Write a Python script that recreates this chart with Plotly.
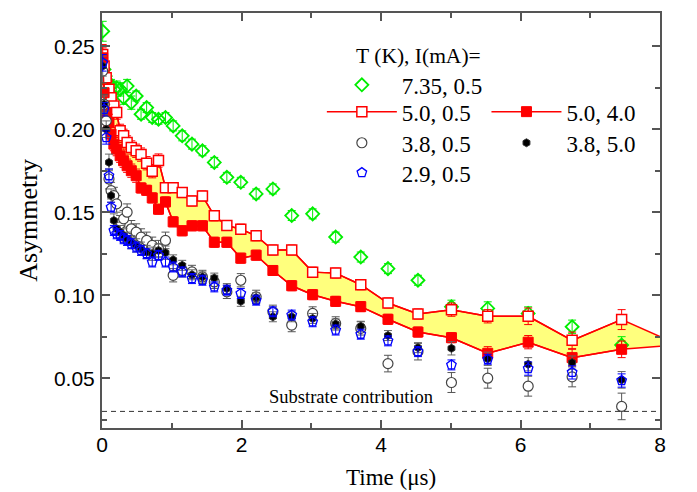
import plotly.graph_objects as go

# ---- data ----
t = [0.01, 0.03, 0.06, 0.10, 0.13, 0.17, 0.21, 0.26, 0.31, 0.36, 0.42, 0.49,
     0.56, 0.64, 0.72, 0.81, 0.91, 1.02, 1.15, 1.29, 1.44, 1.61, 1.79, 1.99,
     2.21, 2.45, 2.72, 3.02, 3.35, 3.71, 4.10, 4.53, 5.01, 5.53, 6.11, 6.74, 7.45]

a_735_05 = [0.259, 0.236, 0.229, 0.228, 0.226, 0.224, 0.225, 0.224, 0.219, 0.226, 0.216, 0.220,
            0.209, 0.213, 0.207, 0.206, 0.207, 0.202, 0.196, 0.191, 0.187, 0.180, 0.171, 0.168,
            0.161, 0.164, 0.148, 0.149, 0.135, 0.123, 0.116, 0.109, 0.093, 0.092, 0.089, 0.081, 0.070]
e_735_05 = [0.006, 0.005, 0.005, 0.004, 0.004, 0.004, 0.004, 0.004, 0.004, 0.004, 0.004, 0.003,
            0.003, 0.003, 0.003, 0.003, 0.003, 0.003, 0.003, 0.003, 0.003, 0.003, 0.003, 0.003,
            0.003, 0.003, 0.003, 0.003, 0.003, 0.003, 0.003, 0.003, 0.004, 0.004, 0.004, 0.004, 0.005]

a_50_05 = [0.245, 0.238, 0.231, 0.224, 0.219, 0.214, 0.210, 0.199, 0.196, 0.192, 0.189, 0.187,
           0.1847, 0.1795, 0.1747, 0.1811, 0.1648, 0.1648, 0.1618, 0.1568, 0.1598, 0.1478, 0.1420, 0.1398,
           0.1358, 0.1272, 0.1272, 0.1139, 0.1133, 0.1063, 0.0953, 0.0887, 0.0913, 0.0873, 0.0873, 0.0728, 0.0853]
e_50_05 = [0.006, 0.005, 0.005, 0.005, 0.004, 0.004, 0.004, 0.004, 0.004, 0.004, 0.004, 0.004,
           0.004, 0.004, 0.004, 0.004, 0.003, 0.003, 0.003, 0.003, 0.003, 0.003, 0.003, 0.003,
           0.003, 0.003, 0.003, 0.003, 0.003, 0.003, 0.003, 0.003, 0.004, 0.004, 0.005, 0.005, 0.006]

a_50_40 = [0.243, 0.222, 0.210, 0.204, 0.197, 0.191, 0.188, 0.184, 0.181, 0.178, 0.175, 0.172,
           0.1646, 0.1632, 0.1586, 0.1518, 0.1562, 0.1442, 0.1388, 0.1418, 0.1418, 0.1319, 0.1319, 0.1223,
           0.1241, 0.1149, 0.1057, 0.1003, 0.0963, 0.0931, 0.0855, 0.0778, 0.0744, 0.0650, 0.0717, 0.0624, 0.0674]
e_50_40 = [0.006, 0.005, 0.005, 0.005, 0.004, 0.004, 0.004, 0.004, 0.004, 0.004, 0.004, 0.004,
           0.003, 0.003, 0.003, 0.003, 0.003, 0.003, 0.003, 0.003, 0.003, 0.003, 0.003, 0.003,
           0.003, 0.003, 0.003, 0.003, 0.003, 0.003, 0.003, 0.003, 0.003, 0.004, 0.004, 0.005, 0.005]

a_38_05 = [0.235, 0.215, 0.205, 0.170, 0.163, 0.160, 0.155, 0.143, 0.146, 0.150, 0.140, 0.138,
           0.135, 0.133, 0.130, 0.128, 0.133, 0.112, 0.115, 0.114, 0.111, 0.108, 0.102, 0.109,
           0.099, 0.090, 0.082, 0.089, 0.083, 0.080, 0.0588, 0.066, 0.0474, 0.0500, 0.0452, 0.0508, 0.0330]
e_38_05 = [0.007, 0.006, 0.006, 0.006, 0.005, 0.005, 0.005, 0.005, 0.005, 0.005, 0.005, 0.005,
           0.005, 0.005, 0.005, 0.005, 0.005, 0.004, 0.004, 0.004, 0.004, 0.004, 0.004, 0.004,
           0.004, 0.004, 0.004, 0.004, 0.004, 0.004, 0.005, 0.005, 0.006, 0.006, 0.006, 0.006, 0.008]

a_38_50 = [0.238, 0.215, 0.200, 0.180, 0.160, 0.145, 0.140, 0.138, 0.136, 0.134, 0.132, 0.130,
           0.128, 0.126, 0.125, 0.127, 0.1256, 0.1213, 0.118, 0.1123, 0.111, 0.1103, 0.104, 0.0963,
           0.0985, 0.0870, 0.0870, 0.0860, 0.0827, 0.0813, 0.0757, 0.0684, 0.0680, 0.0617, 0.0584, 0.0594, 0.0490]
e_38_50 = [0.006, 0.005, 0.005, 0.005, 0.004, 0.004, 0.004, 0.004, 0.004, 0.004, 0.004, 0.004,
           0.004, 0.004, 0.004, 0.004, 0.004, 0.003, 0.003, 0.003, 0.003, 0.003, 0.003, 0.003,
           0.003, 0.003, 0.003, 0.003, 0.003, 0.003, 0.003, 0.003, 0.004, 0.004, 0.004, 0.004, 0.005]

a_29_05 = [0.240, 0.212, 0.195, 0.172, 0.153, 0.139, 0.137, 0.136, 0.134, 0.133, 0.131, 0.129,
           0.127, 0.125, 0.120, 0.124, 0.120, 0.117, 0.114, 0.110, 0.109, 0.105, 0.103, 0.101,
           0.097, 0.090, 0.088, 0.084, 0.079, 0.0765, 0.0725, 0.0660, 0.0580, 0.0614, 0.0558, 0.0535, 0.0486]
e_29_05 = [0.005, 0.004, 0.004, 0.004, 0.003, 0.003, 0.003, 0.003, 0.003, 0.003, 0.003, 0.003,
           0.003, 0.003, 0.003, 0.003, 0.003, 0.003, 0.003, 0.003, 0.003, 0.003, 0.003, 0.003,
           0.003, 0.003, 0.003, 0.003, 0.003, 0.003, 0.003, 0.003, 0.003, 0.003, 0.004, 0.004, 0.004]

# band continuation to the right edge
t_end = 8.0
band_upper_end = 0.0751
band_lower_end = 0.0692

substrate_t = [0, 8]
substrate_a = [0.03, 0.03]

legend_title = "T (K), I(mA)="
names = {
    "735": "7.35, 0.5",
    "50_05": "5.0, 0.5",
    "50_40": "5.0, 4.0",
    "38_05": "3.8, 0.5",
    "38_50": "3.8, 5.0",
    "29_05": "2.9, 0.5",
}
x_title = "Time (\u03bcs)"
y_title = "Asymmetry"
substrate_label = "Substrate contribution"

SERIF = "Liberation Serif, Times New Roman, serif"
SANS = "Liberation Sans, Arial, sans-serif"

fig = go.Figure()

# yellow band between the two 5.0 K curves
fig.add_trace(go.Scatter(x=t + [t_end], y=a_50_05 + [band_upper_end], mode="lines",
                         line=dict(color="red", width=1.5), showlegend=False, hoverinfo="skip"))
fig.add_trace(go.Scatter(x=t + [t_end], y=a_50_40 + [band_lower_end], mode="lines",
                         line=dict(color="red", width=1.5), fill="tonexty",
                         fillcolor="rgb(255,255,125)", showlegend=False, hoverinfo="skip"))

def err(arr, color):
    return dict(type="data", array=arr, visible=True, color=color, thickness=1, width=4)

fig.add_trace(go.Scatter(x=t, y=a_735_05, mode="markers", name=names["735"],
                         marker=dict(symbol="diamond-open", size=10, color="#00ee00",
                                     line=dict(width=1.8, color="#00ee00")),
                         error_y=err(e_735_05, "#00ee00"), legend="legend"))
fig.add_trace(go.Scatter(x=t, y=a_50_05, mode="lines+markers", name=names["50_05"],
                         line=dict(color="red", width=1.5),
                         marker=dict(symbol="square", size=10, color="white",
                                     line=dict(width=1.5, color="red")),
                         error_y=err(e_50_05, "red"), legend="legend2"))
fig.add_trace(go.Scatter(x=t, y=a_50_40, mode="lines+markers", name=names["50_40"],
                         line=dict(color="red", width=1.5),
                         marker=dict(symbol="square", size=10, color="red",
                                     line=dict(width=1, color="red")),
                         error_y=err(e_50_40, "red"), legend="legend3"))
fig.add_trace(go.Scatter(x=t, y=a_38_05, mode="markers", name=names["38_05"],
                         marker=dict(symbol="circle", size=10, color="white",
                                     line=dict(width=1.2, color="#444444")),
                         error_y=err(e_38_05, "#555555"), legend="legend4"))
fig.add_trace(go.Scatter(x=t, y=a_38_50, mode="markers", name=names["38_50"],
                         marker=dict(symbol="hexagon", size=8, color="black",
                                     line=dict(width=1, color="#333333")),
                         error_y=err(e_38_50, "#666666"), legend="legend5"))
fig.add_trace(go.Scatter(x=t, y=a_29_05, mode="markers", name=names["29_05"],
                         marker=dict(symbol="pentagon-open", size=10, color="blue",
                                     line=dict(width=1.3, color="blue")),
                         error_y=err(e_29_05, "blue"), legend="legend6"))

fig.add_trace(go.Scatter(x=substrate_t, y=substrate_a, mode="lines",
                         line=dict(color="#333333", width=1, dash="5px,4px"),
                         showlegend=False, hoverinfo="skip"))

fig.add_annotation(x=3.57, y=0.0386, text=substrate_label, showarrow=False,
                   font=dict(family=SERIF, size=18.5, color="black"))
fig.add_annotation(xref="paper", yref="paper", x=0.518, y=-0.12, text=x_title,
                   showarrow=False, xanchor="center", yanchor="middle",
                   font=dict(family=SERIF, size=23, color="black"))

axis_common = dict(showline=True, linecolor="#555555", linewidth=2, mirror="ticks",
                   ticks="inside", ticklen=8, tickcolor="#555555", tickwidth=1.5,
                   showgrid=False, zeroline=False, automargin=False,
                   tickfont=dict(family=SANS, size=21, color="black"))

fig.update_xaxes(range=[0, 8], dtick=2, tick0=0,
                 minor=dict(dtick=1, ticks="inside", ticklen=5, tickcolor="#555555"),
                 ticklabelstandoff=-3, **axis_common)
fig.update_yaxes(range=[0.02, 0.27], dtick=0.05, tick0=0, tickformat=".2f",
                 minor=dict(dtick=0.025, ticks="inside", ticklen=5, tickcolor="#555555"),
                 title=dict(text=y_title, font=dict(family=SERIF, size=26, color="black"),
                            standoff=9),
                 ticklabelstandoff=1, **axis_common)

legend_common = dict(font=dict(family=SERIF, size=23, color="black"), bgcolor="rgba(0,0,0,0)",
                     itemwidth=70, xanchor="left", yanchor="top", borderwidth=0,
                     traceorder="normal", itemclick=False, itemdoubleclick=False)
col1_x, col2_x = 0.394, 0.689
fig.update_layout(
    width=689, height=484,
    margin=dict(l=94, r=37, t=5, b=64),
    plot_bgcolor="white", paper_bgcolor="white",
    legend=dict(x=col1_x, y=0.946,
                title=dict(text="\u2002\u2002\u2002" + legend_title, side="top",
                           font=dict(family=SERIF, size=21.5)),
                **legend_common),
    legend2=dict(x=col1_x, y=0.814, **legend_common),
    legend3=dict(x=col2_x, y=0.814, **legend_common),
    legend4=dict(x=col1_x, y=0.739, **legend_common),
    legend5=dict(x=col2_x, y=0.739, **legend_common),
    legend6=dict(x=col1_x, y=0.667, **legend_common),
)

fig.write_html("out.html")
